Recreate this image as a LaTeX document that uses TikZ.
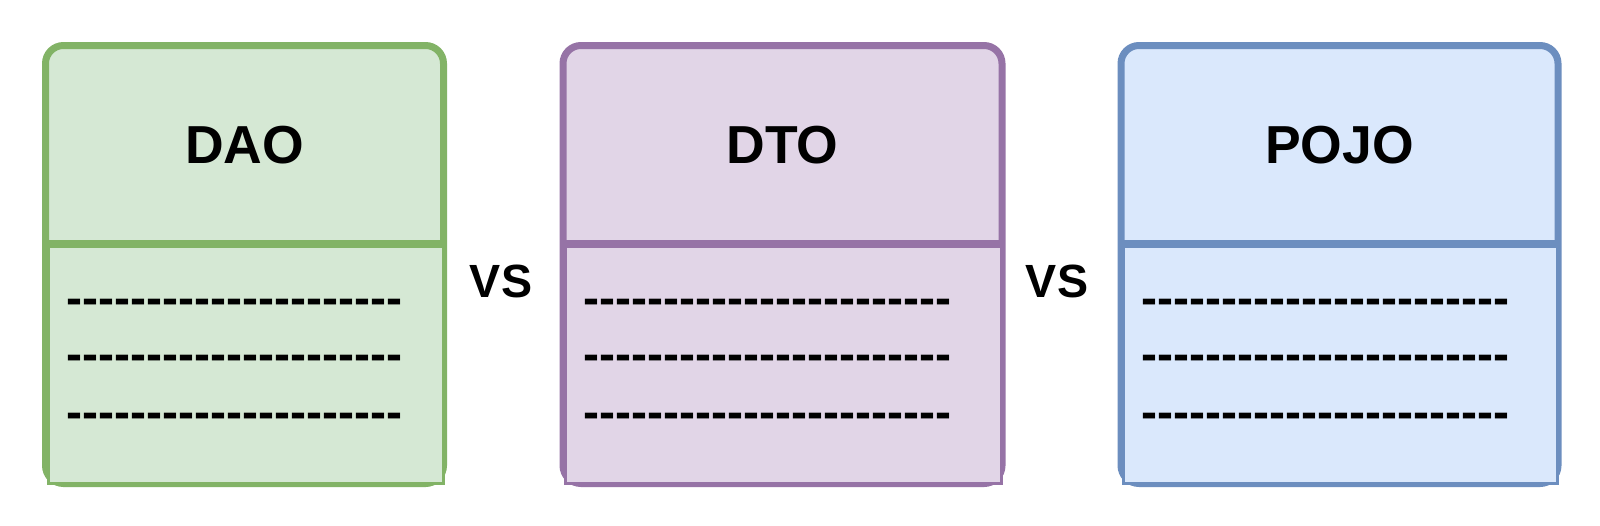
\documentclass[tikz,border=0pt]{standalone}
\usepackage{fontspec}
\setmainfont{Liberation Sans}[Ligatures=TeXOff]
\usetikzlibrary{positioning}
\definecolor{daofill}{HTML}{D5E8D4}
\definecolor{daoline}{HTML}{82B366}
\definecolor{dtofill}{HTML}{E1D5E7}
\definecolor{dtoline}{HTML}{9673A6}
\definecolor{pojofill}{HTML}{DAE8FC}
\definecolor{pojoline}{HTML}{6C8EBF}

\begin{document}
\begin{tikzpicture}[x=0.5pt,y=-0.5pt,
    outer/.style={line width=3.5pt, rounded corners=9pt},
    divider/.style={line width=3.25pt},
    body/.style={line width=1.5pt},
    title/.style={inner sep=0pt, anchor=base, font=\fontsize{26.75pt}{32pt}\selectfont\bfseries},
    vs/.style={inner sep=0pt, anchor=base, font=\fontsize{23.3pt}{28pt}\selectfont\bfseries},
    dashes/.style={inner sep=0pt, anchor=base west, font=\fontsize{24pt}{28pt}\selectfont\bfseries}]
  \useasboundingbox (0,0) rectangle (1600,525);

  % DAO
  \draw[outer, draw=daoline, fill=daofill] (45.5,45.5) rectangle (443.5,483.5);
  \draw[divider, daoline] (45.5,243.5) -- (443.5,243.5);
  \draw[body, draw=daoline, fill=daofill] (48,246.5) rectangle (443,483);
  \node[title] (dao) at (244.5,163) {DAO};
  \node[dashes] (daoa) at (66,314) {---------------------};
  \node[dashes] (daob) at (66,370.5) {---------------------};
  \node[dashes] (daoc) at (66,428) {---------------------};

  \node[vs] (vsone) at (501,297) {VS};

  % DTO
  \draw[outer, draw=dtoline, fill=dtofill] (563,45.5) rectangle (1002,483.5);
  \draw[divider, dtoline] (563,243.5) -- (1002,243.5);
  \draw[body, draw=dtoline, fill=dtofill] (565.5,246.5) rectangle (1001.5,483);
  \node[title] (dto) at (782.5,163) {DTO};
  \node[dashes] (dtoa) at (583.5,314) {-----------------------};
  \node[dashes] (dtob) at (583.5,370.5) {-----------------------};
  \node[dashes] (dtoc) at (583.5,428) {-----------------------};

  \node[vs] (vstwo) at (1057,297) {VS};

  % POJO
  \draw[outer, draw=pojoline, fill=pojofill] (1121,45.5) rectangle (1558,483.5);
  \draw[divider, pojoline] (1121,243.5) -- (1558,243.5);
  \draw[body, draw=pojoline, fill=pojofill] (1123.5,246.5) rectangle (1557.5,483);
  \node[title] (pojo) at (1339.5,163) {POJO};
  \node[dashes] (pojoa) at (1141,314) {-----------------------};
  \node[dashes] (pojob) at (1141,370.5) {-----------------------};
  \node[dashes] (pojoc) at (1141,428) {-----------------------};
\end{tikzpicture}
\end{document}
